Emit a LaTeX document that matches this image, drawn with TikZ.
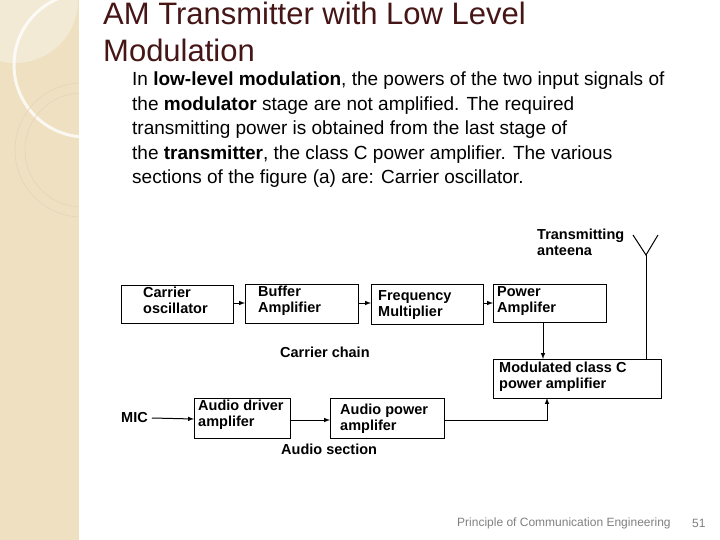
\documentclass[tikz,border=0pt]{standalone}
\usepackage{fontspec}
\setmainfont{Liberation Sans}
\definecolor{panel}{RGB}{238,224,192}
\definecolor{ttl}{RGB}{70,22,22}
\begin{document}
\begin{tikzpicture}[x=1pt,y=-1pt,
 box/.style={draw,line width=1pt,anchor=north west,inner sep=0pt},
 bt/.style={font=\fontsize{14.5}{16}\selectfont\bfseries,align=left,anchor=north west,inner sep=0pt},
 ar/.style={-latex,line width=1pt}]
\useasboundingbox (0,0) rectangle (720,540);
\fill[white] (0,0) rectangle (720,540);
\fill[panel] (0,0) rectangle (79,540);
\begin{scope}
\clip (0,0) rectangle (79,540);
\fill[white,opacity=0.35] (15,0) circle (63);
\draw[white,line width=3pt,opacity=0.8] (86,65) circle (72);
\draw[brown!35,line width=0.6pt] (82,150) circle (67);
\draw[brown!35,line width=0.6pt] (82,150) circle (57);
\end{scope}
\node[anchor=north west,inner sep=0,align=left,text=ttl,font=\fontsize{31}{36.5}\selectfont] (title) at (103,2) {AM Transmitter with Low Level\\Modulation};
\node[anchor=north west,inner sep=0,align=left,font=\fontsize{19}{24.5}\selectfont] (body) at (132,72)
{In \textbf{low-level modulation}, the powers of the two input signals of\\
the \textbf{modulator} stage are not amplified. The required\\
transmitting power is obtained from the last stage of\\
the \textbf{transmitter}, the class C power amplifier. The various\\
sections of the figure (a) are: Carrier oscillator.};
% boxes
\node[box,minimum width=112,minimum height=38] (co) at (121,285) {};
\node[bt] at (143,287) {Carrier\\oscillator};
\node[box,minimum width=113,minimum height=39] (ba) at (245,284) {};
\node[bt] at (258,286) {Buffer\\Amplifier};
\node[box,minimum width=112,minimum height=40] (fm) at (371,284) {};
\node[bt] at (378,290) {Frequency\\Multiplier};
\node[box,minimum width=113,minimum height=38] (pa) at (493,284) {};
\node[bt] at (497,286) {Power\\Amplifer};
\node[box,minimum width=168,minimum height=39] (mc) at (493,359) {};
\node[bt] at (499,362) {Modulated class C\\power amplifier};
\node[box,minimum width=96,minimum height=40] (ad) at (194,398) {};
\node[bt] at (198,400) {Audio driver\\amplifer};
\node[box,minimum width=114,minimum height=40] (ap) at (330,398) {};
\node[bt] at (340,404) {Audio power\\amplifer};
\node[bt,anchor=west] (mic) at (121,418) {MIC};
\node[bt] (cc) at (280,347) {Carrier chain};
\node[bt] (as) at (281,444) {Audio section};
\node[bt] (ta) at (537,229) {Transmitting\\anteena};
% connectors
\draw[ar] (co.east |- 0,303) -- (ba.west |- 0,303);
\draw[ar] (ba.east |- 0,303) -- (fm.west |- 0,303);
\draw[ar] (fm.east |- 0,303) -- (pa.west |- 0,303);
\draw[ar] (543,322) -- (543,359);
\draw[ar] (mic.east) ++(4,0) -- (ad.west |- 0,419);
\draw[ar] (290,420) -- (ap.west |- 0,420);
\draw[ar] (444,420) -- (547,420) -- (547,398);
\coordinate (tip) at (646,255);
\draw[line width=1pt] (646,359) -- (tip);
\draw[line width=1pt] (633,235) -- (tip) -- (658,235);
\node[anchor=west,inner sep=0,text=gray,font=\fontsize{12}{13}\selectfont] (ft) at (457,523) {Principle of Communication Engineering};
\node[anchor=west,inner sep=0,text=gray,font=\fontsize{12}{13}\selectfont] (pg) at (692,523) {51};
\end{tikzpicture}
\end{document}
